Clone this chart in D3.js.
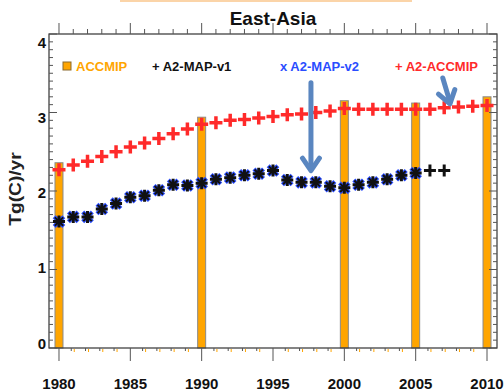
<!DOCTYPE html>
<html>
<head>
<meta charset="utf-8">
<script src="https://cdn.jsdelivr.net/npm/d3@7"></script>
<style>
  body { margin: 0; background: #fff; }
  svg { display: block; font-family: "Liberation Sans", Arial, sans-serif; font-weight: bold; }
</style>
</head>
<body>
<div id="chart"></div>
<script>
const years = [1980, 1981, 1982, 1983, 1984, 1985, 1986, 1987, 1988, 1989,
  1990, 1991, 1992, 1993, 1994, 1995, 1996, 1997, 1998, 1999,
  2000, 2001, 2002, 2003, 2004, 2005, 2006, 2007, 2008, 2009, 2010];
const accmipYears = [1980, 1990, 2000, 2005, 2010];
const accmipValues = [2.36, 2.94, 3.15, 3.12, 3.20];
const a2AccmipValues = [2.27, 2.33, 2.38, 2.44, 2.50, 2.56, 2.61, 2.67, 2.73, 2.79,
  2.85, 2.87, 2.90, 2.91, 2.93, 2.95, 2.97, 2.98, 3.00, 3.02,
  3.05, 3.04, 3.04, 3.04, 3.04, 3.04, 3.04, 3.06, 3.07, 3.08, 3.09];
const mapV1Values = [1.61, 1.67, 1.67, 1.77, 1.84, 1.92, 1.94, 2.01, 2.08, 2.07,
  2.10, 2.15, 2.17, 2.20, 2.22, 2.26, 2.14, 2.11, 2.11, 2.06,
  2.04, 2.08, 2.11, 2.15, 2.20, 2.23, 2.26, 2.26];
const mapV2Values = [1.61, 1.67, 1.67, 1.77, 1.84, 1.92, 1.94, 2.01, 2.08, 2.07,
  2.10, 2.15, 2.17, 2.20, 2.22, 2.26, 2.14, 2.11, 2.11, 2.06,
  2.04, 2.08, 2.11, 2.15, 2.20, 2.23];
const xTickLabels = [1980, 1985, 1990, 1995, 2000, 2005, 2010];
const yTickLabels = [0, 1, 2, 3, 4];
const legendItems = [
  {label: 'ACCMIP', color: '#ffa500', sym: 'box', x: 63},
  {label: '+ A2-MAP-v1', color: '#111', x: 152},
  {label: 'x A2-MAP-v2', color: '#2a4dff', x: 280},
  {label: '+ A2-ACCMIP', color: '#ff2a2a', x: 395}
];
// annotation arrows, in data units: [fromYear, fromValue, toYear, toValue]
const arrows = [[1997.66, 3.38, 1997.66, 2.26], [2006.9, 3.44, 2007.4, 3.11]];

const width = 504, height = 391;
const pLeft = 49, pRight = 497, pTop = 34, pBottom = 348;

const svg = d3.select('#chart').append('svg')
  .attr('width', width)
  .attr('height', height);

const x = d3.scaleLinear().domain([1979.3, 2010.7]).range([pLeft, pRight]);
const y = d3.scaleLinear().domain([0, 4]).range([pBottom, pTop]);
const yLab = d3.scaleLinear().domain([0, 4]).range([343, 42]);

// faded strip at the very top
svg.append('rect')
  .attr('x', 120).attr('y', 0).attr('width', 292).attr('height', 2)
  .style('fill', '#fbd4a8');

svg.append('text')
  .attr('x', (pLeft + pRight) / 2).attr('y', 25)
  .style('text-anchor', 'middle')
  .style('font-size', '19px')
  .style('fill', '#111')
  .text('East-Asia');

// bars
svg.selectAll('rect.bar')
  .data(accmipYears).enter().append('rect')
  .attr('class', 'bar')
  .attr('x', (d) => x(d) - 4)
  .attr('width', 8)
  .attr('y', (d, i) => y(accmipValues[i]))
  .attr('height', (d, i) => y(0) - y(accmipValues[i]))
  .style('fill', '#ffa500')
  .style('stroke', '#8a8a8a')
  .style('stroke-width', 1);

// frame
svg.append('rect')
  .attr('x', pLeft).attr('y', pTop)
  .attr('width', pRight - pLeft).attr('height', pBottom - pTop)
  .style('fill', 'none').style('stroke', '#333').style('stroke-width', 1.2);

const ticks = svg.append('g').style('stroke', '#555').style('stroke-width', 1);

// y ticks (inward, both sides)
d3.range(0, 41).forEach((k) => {
  const v = k / 10, major = k % 10 === 0, len = major ? 8 : 4;
  ticks.append('line').attr('x1', pLeft).attr('x2', pLeft + len).attr('y1', y(v)).attr('y2', y(v));
  ticks.append('line').attr('x1', pRight).attr('x2', pRight - len).attr('y1', y(v)).attr('y2', y(v));
});

// x ticks (outward, top and bottom)
years.forEach((yr) => {
  const major = yr % 5 === 0;
  ticks.append('line').attr('x1', x(yr)).attr('x2', x(yr))
    .attr('y1', pTop).attr('y2', pTop - (major ? 11 : 5));
  ticks.append('line').attr('x1', x(yr) - (major ? 0 : 2)).attr('x2', x(yr) - (major ? 0 : 2))
    .attr('y1', pBottom).attr('y2', pBottom + (major ? 13 : 3));
  if (!major) {
    svg.append('line').attr('x1', x(yr) + 1).attr('x2', x(yr) + 1)
      .attr('y1', pBottom + 1).attr('y2', pBottom + 4)
      .style('stroke', '#ffa500').style('stroke-width', 1);
  }
});

svg.selectAll('text.xlab')
  .data(xTickLabels).enter().append('text')
  .attr('class', 'xlab')
  .attr('x', (d) => x(d)).attr('y', 389)
  .style('text-anchor', 'middle')
  .style('font-size', '15px')
  .style('fill', '#111')
  .text((d) => d);

svg.selectAll('text.ylab')
  .data(yTickLabels).enter().append('text')
  .attr('class', 'ylab')
  .attr('x', 46).attr('y', (d) => yLab(d) + 5.5)
  .style('text-anchor', 'end')
  .style('font-size', '15px')
  .style('fill', '#111')
  .text((d) => d);

svg.append('text')
  .attr('transform', 'translate(21,189) rotate(-90) scale(1.2,1)')
  .style('text-anchor', 'middle')
  .style('font-size', '16px')
  .style('fill', '#222')
  .text('Tg(C)/yr');

// markers
const plus = (s) => `M${-s},0H${s}M0,${-s}V${s}`;
const cross = (s) => `M${-s},${-s}L${s},${s}M${-s},${s}L${s},${-s}`;

svg.selectAll('path.red')
  .data(a2AccmipValues).enter().append('path')
  .attr('class', 'red')
  .attr('transform', (d, i) => 'translate(' + x(years[i]) + ',' + y(d) + ')')
  .attr('d', plus(6.5))
  .style('stroke', '#ff2a2a').style('stroke-width', 3.5).style('fill', 'none');

const v2 = svg.selectAll('g.v2')
  .data(mapV2Values).enter().append('g')
  .attr('class', 'v2')
  .attr('transform', (d, i) => 'translate(' + x(years[i]) + ',' + y(d) + ')');
v2.append('path').attr('d', cross(4.8))
  .style('stroke', '#2a4dff').style('stroke-width', 4.2).style('fill', 'none');
v2.append('path').attr('d', cross(4.2))
  .style('stroke', '#111').style('stroke-width', 2).style('fill', 'none');

svg.selectAll('path.v1')
  .data(mapV1Values).enter().append('path')
  .attr('class', 'v1')
  .attr('transform', (d, i) => 'translate(' + x(years[i]) + ',' + y(d) + ')')
  .attr('d', plus(6))
  .style('stroke', '#111').style('stroke-width', 3).style('fill', 'none');

// legend
const leg = svg.selectAll('g.leg')
  .data(legendItems).enter().append('g')
  .attr('class', 'leg')
  .attr('transform', (d) => 'translate(' + d.x + ',71)');
leg.filter((d) => d.sym === 'box').append('rect')
  .attr('x', 0).attr('y', -9).attr('width', 8).attr('height', 8)
  .style('fill', '#ffa500').style('stroke', '#8a6a30').style('stroke-width', 1);
leg.append('text')
  .attr('x', (d) => d.sym === 'box' ? 13 : 0)
  .style('font-size', '13px')
  .style('fill', (d) => d.color)
  .text((d) => d.label);

// annotation arrows
const arr = svg.selectAll('g.arrow')
  .data(arrows).enter().append('g')
  .attr('class', 'arrow')
  .style('stroke', '#5a86c0').style('stroke-width', 5)
  .style('stroke-linecap', 'round').style('stroke-linejoin', 'round')
  .style('fill', 'none');
arr.append('line')
  .attr('x1', (d) => x(d[0])).attr('y1', (d) => y(d[1]))
  .attr('x2', (d) => x(d[2])).attr('y2', (d) => y(d[3]) - 2);
arr.append('path')
  .attr('d', (d) => {
    const x0 = x(d[0]), y0 = y(d[1]), x1 = x(d[2]), y1 = y(d[3]);
    const a = Math.atan2(y1 - y0, x1 - x0), h = 15, w = 0.6;
    return 'M' + (x1 - h * Math.cos(a - w)) + ',' + (y1 - h * Math.sin(a - w)) +
      'L' + x1 + ',' + y1 +
      'L' + (x1 - h * Math.cos(a + w)) + ',' + (y1 - h * Math.sin(a + w));
  });
</script>
</body>
</html>
